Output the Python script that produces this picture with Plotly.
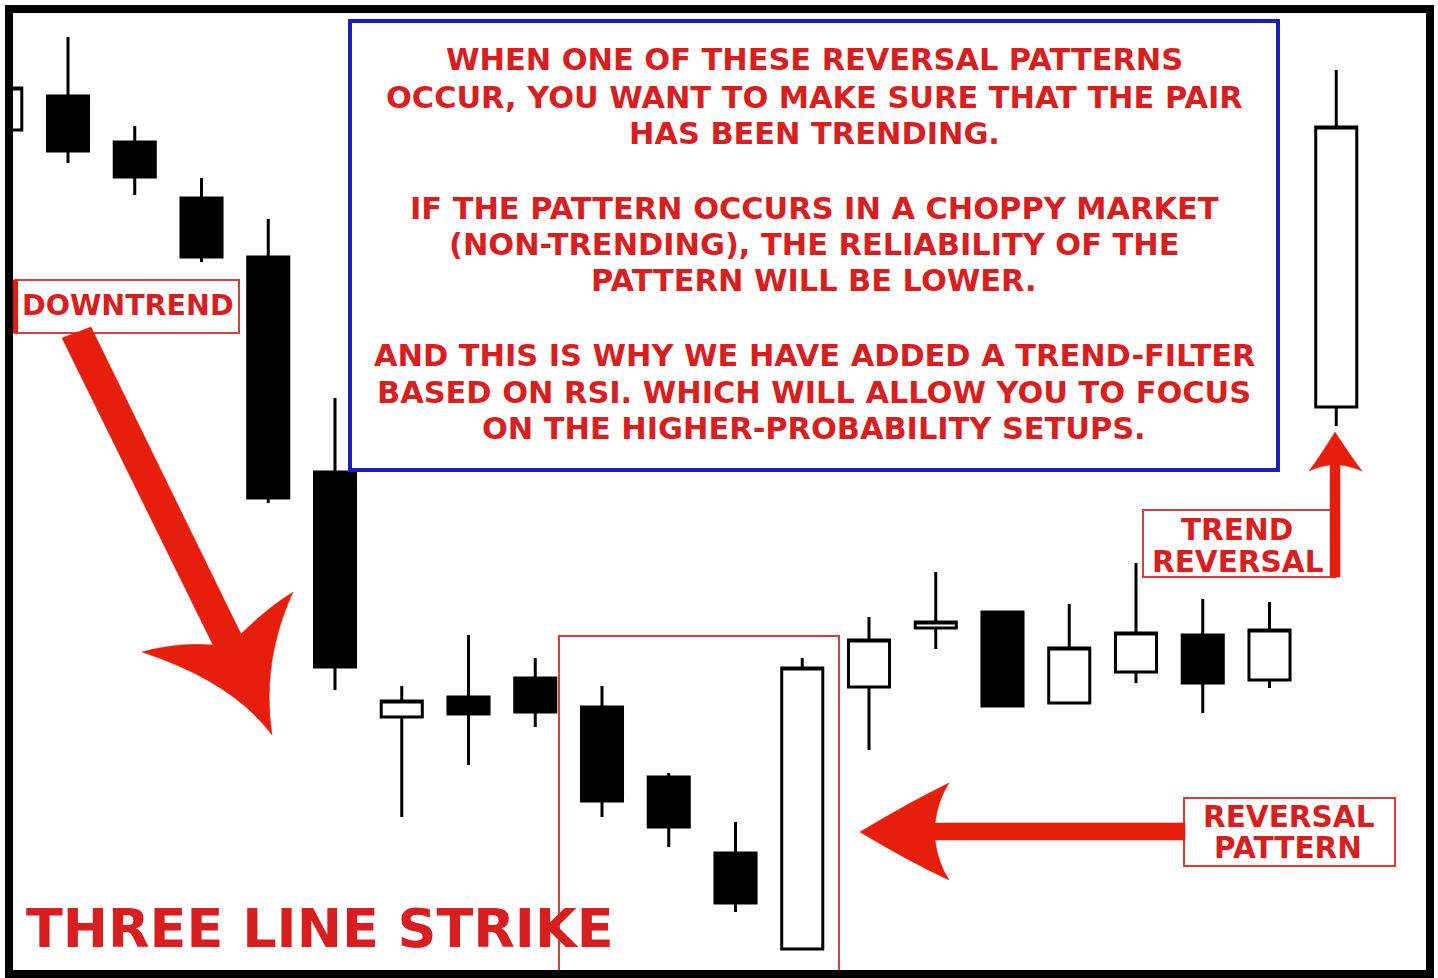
import plotly.graph_objects as go

W, H = 1438, 978

# ---- data: candle positions (bar index) and OHLC values (price units) ----
candle_idx = list(range(-1, 20))
open_  = [84.8, 88.2, 83.6, 78.0, 72.1, 50.6, 26.1, 28.1, 30.0, 27.1, 20.1,
          12.5, 2.9, 29.1, 35.0, 36.6, 27.5, 30.6, 34.3, 29.8, 57.1]
high_  = [89.0, 94.1, 85.2, 80.0, 75.9, 58.0, 29.2, 34.3, 32.0, 29.2, 20.5,
          15.6, 32.0, 36.1, 40.6, 36.6, 37.4, 41.5, 37.9, 37.6, 90.8]
low_   = [84.8, 81.5, 78.3, 71.6, 47.5, 28.8, 16.1, 21.3, 25.1, 16.1, 13.1,
          6.6, 2.9, 22.8, 32.9, 27.2, 27.5, 29.5, 26.5, 29.0, 55.2]
close_ = [89.0, 82.7, 80.1, 72.1, 48.0, 31.1, 27.7, 26.4, 26.6, 17.7, 15.1,
          7.5, 31.0, 33.8, 35.6, 27.2, 33.0, 34.5, 29.5, 34.8, 85.1]

box_lines = [
    "WHEN ONE OF THESE REVERSAL PATTERNS",
    "OCCUR, YOU WANT TO MAKE SURE THAT THE PAIR",
    "HAS BEEN TRENDING.",
    "IF THE PATTERN OCCURS IN A CHOPPY MARKET",
    "(NON-TRENDING), THE RELIABILITY OF THE",
    "PATTERN WILL BE LOWER.",
    "AND THIS IS WHY WE HAVE ADDED A TREND-FILTER",
    "BASED ON RSI. WHICH WILL ALLOW YOU TO FOCUS",
    "ON THE HIGHER-PROBABILITY SETUPS.",
]
box_line_y = [60, 98, 134, 208, 244, 281, 355, 392, 428]

TEXT_RED = "#d81e1e"
ARROW_RED = "#e81e0c"
BOX_RED = "#dc3c3c"
BLUE = "#1c1cc4"
FONT = "DejaVu Sans"


def X(p):
    return p / W


def Y(p):
    return 1 - p / H


def path(cmds):
    out = []
    for c in cmds:
        if isinstance(c, str):
            out.append(c)
        else:
            out.append(f"{X(c[0]):.5f},{Y(c[1]):.5f}")
    return " ".join(out)


fig = go.Figure()
fig.add_trace(go.Candlestick(
    x=candle_idx, open=open_, high=high_, low=low_, close=close_,
    increasing=dict(fillcolor="white", line=dict(color="black", width=3)),
    decreasing=dict(fillcolor="black", line=dict(color="black", width=3)),
    showlegend=False, hoverinfo="skip",
))

shapes = []


def rect(x0, y0, x1, y1, color, width, fill=None):
    shapes.append(dict(type="rect", xref="paper", yref="paper",
                       x0=X(x0), x1=X(x1), y0=Y(y1), y1=Y(y0),
                       line=dict(color=color, width=width),
                       fillcolor=fill if fill else "rgba(0,0,0,0)",
                       layer="above"))


def poly(cmds, color):
    shapes.append(dict(type="path", xref="paper", yref="paper",
                       path=path(cmds), fillcolor=color,
                       line=dict(color=color, width=0.5), layer="above"))


# blue text box
rect(350, 21, 1278, 470, BLUE, 4)
# pattern box
rect(559, 636, 839, 972, BOX_RED, 2)
# label boxes
rect(15, 280, 239, 333, BOX_RED, 2)
rect(13, 280, 18, 333, ARROW_RED, 0, ARROW_RED)
rect(1143, 510, 1335, 577, BOX_RED, 2)
rect(1184, 798, 1395, 866, BOX_RED, 2)

# downtrend arrow
poly(["M", (62, 338), "L", (213, 645), "Q", (178, 642), (142, 652),
      "Q", (233, 682), (272, 735), "Q", (261, 662), (293, 592),
      "Q", (266, 609), (241, 634), "L", (91, 327), "Z"], ARROW_RED)
# left arrow to pattern
poly(["M", (860, 832), "Q", (908, 803), (949, 783),
      "Q", (938, 800), (935, 823), "L", (1185, 823), "L", (1185, 840),
      "L", (935, 840), "Q", (938, 863), (949, 880),
      "Q", (908, 861), (860, 832), "Z"], ARROW_RED)
# up arrow (trend reversal)
poly(["M", (1335, 432), "Q", (1350, 455), (1362, 471),
      "Q", (1350, 466), (1340, 465), "L", (1340, 577), "L", (1330, 577),
      "L", (1330, 465), "Q", (1320, 466), (1309, 471),
      "Q", (1321, 455), (1335, 432), "Z"], ARROW_RED)

# white margin left of frame and the frame itself
rect(0, 0, 5, 978, "white", 0, "white")
rect(9, 9, 1430, 974, "black", 8)

annotations = []


def label(text, x, y, size, color=TEXT_RED, xanchor="center"):
    annotations.append(dict(text=text, x=X(x), y=Y(y), xref="paper", yref="paper",
                            xanchor=xanchor, yanchor="middle", showarrow=False,
                            font=dict(family=FONT, size=size, color=color, weight="bold")))


for t, yy in zip(box_lines, box_line_y):
    label(t, 814, yy, 30.4)

label("DOWNTREND", 128, 306, 28.5)
label("TREND", 1237, 530, 29.5)
label("REVERSAL", 1237, 562, 29.5)
label("REVERSAL", 1288, 817, 29.5)
label("PATTERN", 1288, 848, 29.5)
label("THREE LINE STRIKE", 24, 928, 54, xanchor="left")

fig.update_layout(
    width=W, height=H,
    margin=dict(l=0, r=0, t=0, b=0),
    paper_bgcolor="white", plot_bgcolor="white",
    boxgap=0.385, boxgroupgap=0,
    xaxis=dict(range=[(0 - 68) / 66.75, (W - 68) / 66.75], visible=False,
               rangeslider=dict(visible=False), fixedrange=True),
    yaxis=dict(range=[0, 97.8], visible=False, fixedrange=True),
    shapes=shapes, annotations=annotations,
    showlegend=False,
)

fig.write_html(
    "out.html",
    config={"displayModeBar": False},
    post_script="document.body.style.margin='0';document.body.style.overflow='hidden';",
)
